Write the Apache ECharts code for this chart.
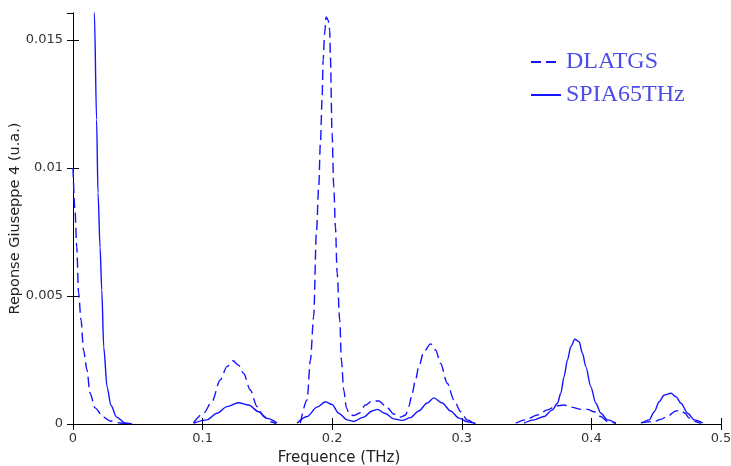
<!DOCTYPE html>
<html>
<head>
<meta charset="utf-8">
<script src="https://cdn.jsdelivr.net/npm/echarts@6/dist/echarts.min.js"></script>
<style>
html,body{margin:0;padding:0;background:#fff;}
#chart{width:731px;height:466px;}
</style>
</head>
<body>
<div id="chart"></div>
<script>
// Tick labels
var xTicks = [0, 0.1, 0.2, 0.3, 0.4, 0.5];
var yTicks = [0, 0.005, 0.01, 0.015];
var seriesNames = ['DLATGS', 'SPIA65THz'];

// DLATGS (dashed) – frequency (THz) and response; null = gap
var dlatgsX = [0, 0.0015, 0.0029, 0.0043, 0.0062, 0.0081, 0.0108, 0.0131, 0.017, 0.0234, 0.0286, 0.0363, 0.044,
  0.06,
  0.093, 0.1007, 0.1072, 0.1136, 0.1188, 0.1234, 0.1277, 0.1316, 0.1368, 0.142, 0.1471, 0.1522, 0.1569,
  0.165,
  0.1754, 0.1806, 0.1832, 0.1857, 0.1878, 0.1896, 0.1909, 0.1922, 0.193, 0.1942, 0.1953, 0.1968, 0.1981, 0.1986, 0.1999,
  0.2012, 0.2025, 0.2038, 0.2058, 0.2071, 0.2089, 0.211, 0.2133, 0.2166, 0.2205, 0.2257, 0.2308, 0.2359, 0.2424,
  0.2475, 0.2527, 0.2566, 0.2591, 0.2617, 0.2643, 0.2668, 0.2707, 0.2759, 0.2798, 0.2836, 0.2888, 0.2939, 0.2991,
  0.3042, 0.3094,
  0.325,
  0.3416, 0.3493, 0.3583, 0.3661, 0.3725, 0.3789, 0.3854, 0.3918, 0.397, 0.4021, 0.4073, 0.4124, 0.4189,
  0.43,
  0.4382, 0.4485, 0.4536, 0.4588, 0.4652, 0.4683, 0.4722, 0.4755, 0.4807, 0.4845];
var dlatgsY = [0.0100, 0.00836, 0.00691, 0.00512, 0.00406, 0.00289, 0.00211, 0.00121, 0.00063, 0.00027, 0.00012, 0.00004, 0,
  null,
  0.00005, 0.00042, 0.00087, 0.00172, 0.00224, 0.00247, 0.0023, 0.00198, 0.00133, 0.00068, 0.00029, 0.00009, 0.00002,
  null,
  0.00003, 0.00094, 0.0025, 0.00419, 0.00746, 0.00927, 0.01098, 0.01266, 0.01422, 0.01527, 0.0159, 0.01578, 0.01539, 0.01435, 0.01137,
  0.00926, 0.0077, 0.0059, 0.00406, 0.0025, 0.00133, 0.00063, 0.00039, 0.00033, 0.00041, 0.00074, 0.0009, 0.0009, 0.00064,
  0.00039, 0.00027, 0.00035, 0.00068, 0.0012, 0.00172, 0.00224, 0.00282, 0.00313, 0.00289, 0.00237, 0.00159, 0.00094, 0.00048,
  0.00016, 0.00003,
  null,
  0.00003, 0.00016, 0.00035, 0.00055, 0.0007, 0.00074, 0.00065, 0.00057, 0.00057, 0.00048, 0.00029, 0.0001, 0.00002,
  null,
  0.00005, 0.0001, 0.00018, 0.00031, 0.00051, 0.00053, 0.00043, 0.00023, 0.00009, 0.00002];

// SPIA65THz (solid)
var spiaX = [0, 0.008, 0.013, 0.0165, 0.0182, 0.0193, 0.0209, 0.0222, 0.0237, 0.0263, 0.0292, 0.0336, 0.0402, 0.0456,
  0.07,
  0.093, 0.1033, 0.1111, 0.1188, 0.1277, 0.1355, 0.1432, 0.1497, 0.1574,
  0.165,
  0.1729, 0.1806, 0.1883, 0.1947, 0.1999, 0.205, 0.2115, 0.2164, 0.2243, 0.2308, 0.2349, 0.2411, 0.2475, 0.254,
  0.2604, 0.2668, 0.2733, 0.2784, 0.2849, 0.2913, 0.2978, 0.3042, 0.3107,
  0.33,
  0.348, 0.3557, 0.3634, 0.3699, 0.3738, 0.3764, 0.3789, 0.3815, 0.3841, 0.3872, 0.3905, 0.3931, 0.3957, 0.3995,
  0.4034, 0.4073, 0.4124, 0.4189,
  0.43,
  0.4395, 0.4446, 0.4485, 0.4523, 0.4562, 0.4614, 0.4652, 0.4691, 0.4743, 0.4794, 0.4859];
var spiaY = [0.06, 0.035, 0.022, 0.01605, 0.01188, 0.00902, 0.00688, 0.00523, 0.00301, 0.00145, 0.00074, 0.00027, 0.00004, 0,
  null,
  0.00003, 0.00016, 0.00042, 0.00068, 0.00083, 0.00074, 0.00048, 0.00022, 0.00005,
  null,
  0.00003, 0.00029, 0.00066, 0.00087, 0.00076, 0.00042, 0.00016, 0.0001, 0.00027, 0.00051, 0.00057, 0.00041, 0.0002, 0.00014,
  0.00025, 0.00051, 0.00082, 0.00102, 0.00082, 0.00051, 0.00023, 0.00009, 0.00002,
  null,
  0.00003, 0.00016, 0.00029, 0.00055, 0.00081, 0.0012, 0.00185, 0.0025, 0.00302, 0.00331, 0.00321, 0.00276, 0.00224, 0.00146,
  0.00081, 0.00042, 0.00016, 0.00003,
  null,
  0.00005, 0.00016, 0.00048, 0.00087, 0.00113, 0.0012, 0.00107, 0.00081, 0.00042, 0.00016, 0.00004];

function zip(xs, ys) {
  return xs.map(function (x, i) { return [x, ys[i] === null ? '-' : ys[i]]; });
}

var chart = echarts.init(document.getElementById('chart'), null, {renderer: 'canvas'});
var lineColor = '#1414ff';
var axisFont = {fontFamily: 'DejaVu Sans', fontSize: 13, color: '#333'};

function yLabel(v) {
  if (v === 0) return '0';
  return String(+v.toFixed(3));
}

chart.setOption({
  animation: false,
  backgroundColor: '#fff',
  grid: {left: 73, right: 10, top: 13, bottom: 42, containLabel: false, outerBoundsMode: 'none'},
  legend: {
    data: seriesNames,
    orient: 'vertical',
    left: 525, top: 45,
    itemWidth: 30, itemHeight: 14,
    itemGap: 9,
    itemStyle: {color: 'rgba(0,0,0,0)', borderColor: 'rgba(0,0,0,0)', borderWidth: 0},
    textStyle: {fontFamily: 'Liberation Serif', fontSize: 24, color: '#4d4de8'}
  },
  xAxis: [{
    type: 'value', min: 0, max: 0.5, interval: 0.1,
    name: 'Frequence (THz)', nameLocation: 'middle', nameGap: 27, nameMoveOverlap: false,
    nameTextStyle: {fontFamily: 'DejaVu Sans', fontSize: 15, color: '#222', padding: [0, 116, 0, 0]},
    axisLine: {show: true, lineStyle: {color: '#000', width: 1}},
    axisTick: {show: true, inside: true, length: 6, lineStyle: {color: '#000'}},
    axisLabel: Object.assign({margin: 8, formatter: function (v) { return v === 0 ? '0' : String(+v.toFixed(1)); }}, axisFont),
    splitLine: {show: false}
  }, {
    type: 'value', position: 'top', min: 0, max: 0.5, interval: 0.1,
    axisLine: {show: true, lineStyle: {color: '#000', width: 1}},
    axisTick: {show: true, inside: true, length: 6, lineStyle: {color: '#000'}},
    axisLabel: {show: false}, splitLine: {show: false}
  }],
  yAxis: [{
    type: 'value', min: 0, max: 0.01605, interval: 0.005,
    name: 'Reponse Giuseppe 4 (u.a.)', nameLocation: 'middle', nameGap: 50, nameMoveOverlap: false,
    nameTextStyle: {fontFamily: 'DejaVu Sans', fontSize: 14.5, color: '#222'},
    axisLine: {show: true, lineStyle: {color: '#000', width: 1}},
    axisTick: {show: true, inside: true, length: 6, lineStyle: {color: '#000'}},
    axisLabel: Object.assign({margin: 10, showMaxLabel: false, formatter: yLabel}, axisFont),
    splitLine: {show: false}
  }, {
    type: 'value', position: 'right', min: 0, max: 0.01605, interval: 0.005,
    axisLine: {show: true, lineStyle: {color: '#000', width: 1}},
    axisTick: {show: true, inside: true, length: 6, lineStyle: {color: '#000'}},
    axisLabel: {show: false}, splitLine: {show: false}
  }],
  series: [{
    name: seriesNames[0], type: 'line', data: zip(dlatgsX, dlatgsY),
    symbol: 'none', smooth: 0.3, smoothMonotone: 'x', connectNulls: false, clip: true,
    lineStyle: {color: lineColor, width: 1.4, type: [10, 5]},
    itemStyle: {color: lineColor}
  }, {
    name: seriesNames[1], type: 'line', data: zip(spiaX, spiaY),
    symbol: 'none', smooth: 0.3, smoothMonotone: 'x', connectNulls: false, clip: true,
    lineStyle: {color: lineColor, width: 1.4, type: 'solid'},
    itemStyle: {color: lineColor}
  }]
});
</script>
</body>
</html>
